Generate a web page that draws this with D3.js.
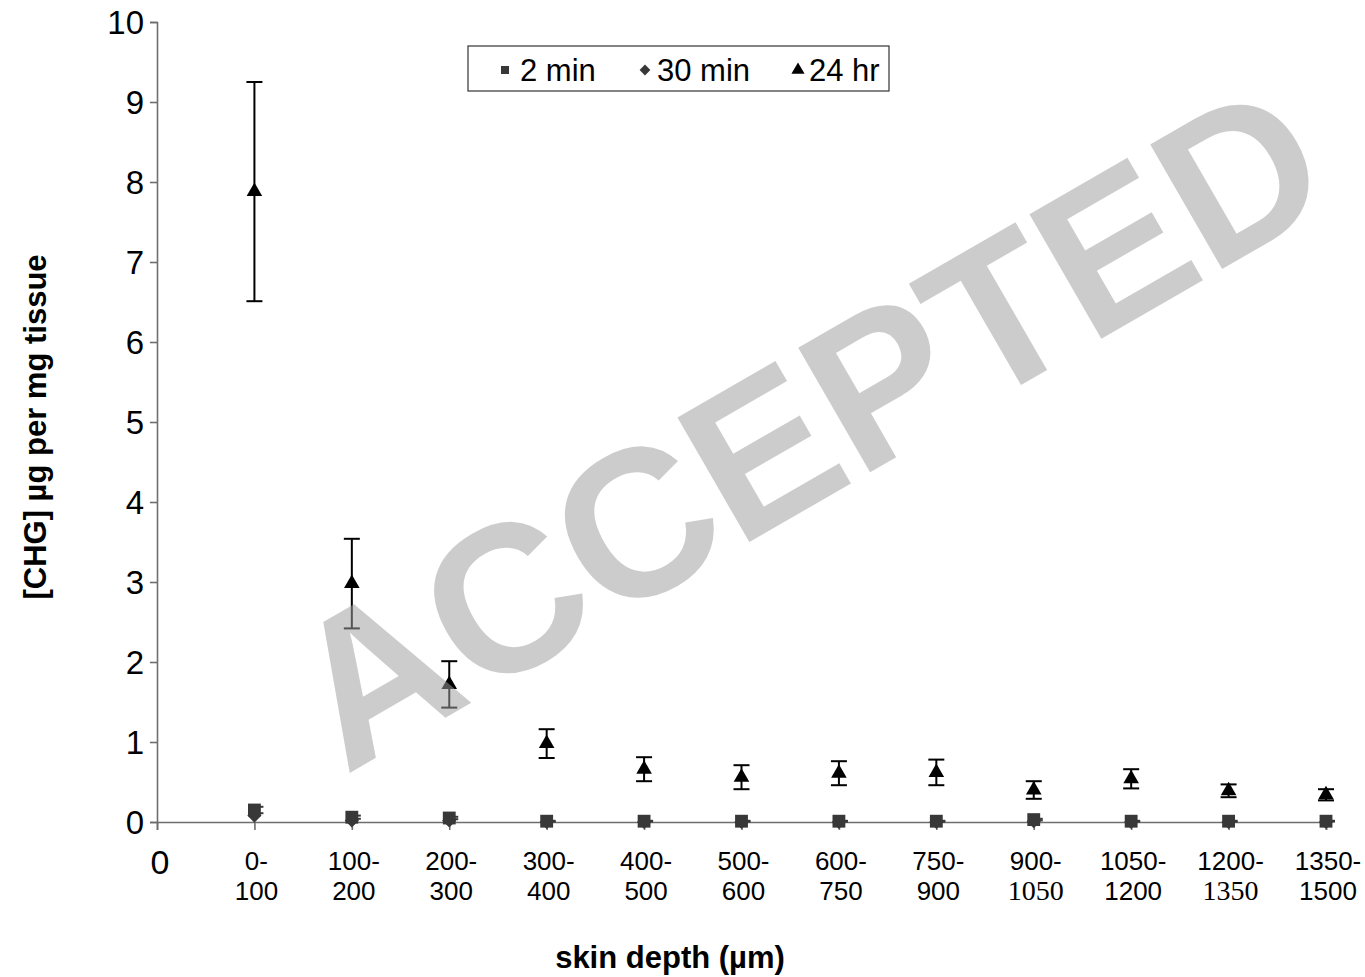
<!DOCTYPE html>
<html>
<head>
<meta charset="utf-8">
<script src="https://cdn.jsdelivr.net/npm/d3@7"></script>
<style>
  html, body { margin: 0; padding: 0; background: #fff; }
  svg { display: block; font-family: "Liberation Sans", Arial, sans-serif; }
</style>
</head>
<body>
<svg id="chart" width="1365" height="977"></svg>
<script>
// ---- data ----
const catTop    = ["0-", "100-", "200-", "300-", "400-", "500-", "600-", "750-", "900-", "1050-", "1200-", "1350-"];
const catBottom = ["100", "200", "300", "400", "500", "600", "750", "900", "1050", "1200", "1350", "1500"];
const serifBottom = ["1050", "1350"];   // these second-line labels are set in a serif face in the original
const seriesNames = ["2 min", "30 min", "24 hr"];
const min2   = [0.15, 0.06, 0.05, 0.01, 0.01, 0.01, 0.01, 0.01, 0.03, 0.01, 0.01, 0.01];
const min2Err = [0.04, 0.02, 0.015, 0.005, 0.005, 0.005, 0.005, 0.005, 0.01, 0.005, 0.005, 0.005];
const min30  = [0.08, 0.02, 0.02, 0.0, 0.0, 0.0, 0.0, 0.0, 0.01, 0.0, 0.0, 0.0];
const hr24   = [7.88, 2.98, 1.72, 0.98, 0.66, 0.56, 0.61, 0.62, 0.40, 0.54, 0.39, 0.34];
const hr24Err = [1.37, 0.56, 0.29, 0.18, 0.15, 0.15, 0.15, 0.16, 0.11, 0.12, 0.08, 0.07];
const yTicks = [0, 1, 2, 3, 4, 5, 6, 7, 8, 9, 10];
const yTitle = "[CHG] µg per mg tissue";
const xTitle = "skin depth (µm)";
const watermark = "ACCEPTED";

// ---- layout ----
const svg = d3.select("#chart");
const x = d3.scaleLinear().domain([0, 12]).range([157, 1326]);
const y = d3.scaleLinear().domain([0, 10]).range([822, 22]);
const axisColor = "#6e6e6e";
const markColor = "#383838";
const sans = "'Liberation Sans', Arial, sans-serif";
const serifFace = "'Liberation Serif', 'Times New Roman', serif";
const diamondPath = (size) => d3.symbol(d3.symbolSquare, size)();

// ---- watermark (semi-transparent, drawn over everything at the end) ----

// y axis
const yAxis = svg.append("g").attr("transform", `translate(${x(0)},0)`)
  .call(d3.axisLeft(y).tickValues(yTicks).tickSize(7).tickPadding(6).tickFormat(d3.format("d")));
yAxis.select(".domain").attr("stroke", axisColor).attr("stroke-width", 1.6);
yAxis.selectAll(".tick line").attr("stroke", axisColor).attr("stroke-width", 1.6);
yAxis.selectAll(".tick text").attr("fill", "#000").attr("dy", "0.36em")
  .style("font-size", "33px").style("font-family", sans);

// x axis line + ticks
const xIdx = d3.range(0, 13);
const xAxis = svg.append("g").attr("transform", `translate(0,${y(0)})`)
  .call(d3.axisBottom(x).tickValues(xIdx).tickSize(8).tickFormat(""));
xAxis.select(".domain").attr("stroke", axisColor).attr("stroke-width", 1.6);
xAxis.selectAll(".tick line").attr("stroke", axisColor).attr("stroke-width", 1.6);

// x labels
svg.append("text").attr("x", x(0) + 3).attr("y", 874).attr("text-anchor", "middle")
  .style("font-size", "34px").style("font-family", sans).text("0");
const xl = svg.append("g");
catTop.forEach((t, i) => {
  const cx = x(i + 1);
  xl.append("text").attr("x", cx + 2).attr("y", 870).attr("text-anchor", "middle")
    .style("font-size", "26px").style("font-family", sans).text(t);
  const b = catBottom[i];
  const serif = serifBottom.includes(b);
  xl.append("text").attr("x", cx + 2).attr("y", 900).attr("text-anchor", "middle")
    .style("font-size", serif ? "28px" : "26px")
    .style("font-family", serif ? serifFace : sans)
    .text(b);
});

// axis titles
svg.append("text").attr("x", 670).attr("y", 968).attr("text-anchor", "middle")
  .style("font-size", "31px").style("font-weight", "bold").text(xTitle);
svg.append("text").attr("transform", `translate(46,427) rotate(-90)`).attr("text-anchor", "middle")
  .style("font-size", "31px").style("font-weight", "bold").text(yTitle);

// ---- series ----
const marks = svg.append("g");

// 30 min diamonds
marks.selectAll(".d30").data(min30).join("path")
  .attr("transform", (d, i) => `translate(${x(i + 1)},${y(d)}) rotate(45)`)
  .attr("d", diamondPath(100))
  .attr("fill", markColor);

// 2 min error caps (visible at right side of squares)
const e2 = marks.append("g").attr("stroke", markColor).attr("stroke-width", 2);
min2.forEach((v, i) => {
  const cx = x(i + 1);
  e2.append("line").attr("x1", cx).attr("x2", cx).attr("y1", y(v + min2Err[i])).attr("y2", y(v - min2Err[i]));
  [v + min2Err[i], v - min2Err[i]].forEach(val => {
    e2.append("line").attr("x1", cx).attr("x2", cx + 9).attr("y1", y(val)).attr("y2", y(val));
  });
});

// 2 min squares
marks.selectAll(".s2").data(min2).join("path")
  .attr("transform", (d, i) => `translate(${x(i + 1)},${y(d)})`)
  .attr("d", d3.symbol(d3.symbolSquare, 165)())
  .attr("fill", markColor);

// 24 hr error bars
const e24 = marks.append("g").attr("stroke", "#000").attr("stroke-width", 2);
hr24.forEach((v, i) => {
  const cx = x(i + 1);
  const hi = v + hr24Err[i], lo = v - hr24Err[i];
  e24.append("line").attr("x1", cx).attr("x2", cx).attr("y1", y(hi)).attr("y2", y(lo));
  [hi, lo].forEach(val => {
    e24.append("line").attr("x1", cx - 8).attr("x2", cx + 8).attr("y1", y(val)).attr("y2", y(val));
  });
});
// 24 hr triangles
marks.selectAll(".t24").data(hr24).join("path")
  .attr("transform", (d, i) => `translate(${x(i + 1)},${y(d)})`)
  .attr("d", d3.symbol(d3.symbolTriangle, 105)())
  .attr("fill", "#000");

// ---- legend ----
const lg = svg.append("g");
lg.append("rect").attr("x", 468).attr("y", 46).attr("width", 421).attr("height", 45)
  .attr("fill", "#fff").attr("stroke", "#333").attr("stroke-width", 1.2);
const legendItems = [
  { name: seriesNames[0], d: d3.symbol(d3.symbolSquare, 64)(), rot: 0, fill: markColor, sx: 505, tx: 520 },
  { name: seriesNames[1], d: diamondPath(58), rot: 45, fill: markColor, sx: 645, tx: 657 },
  { name: seriesNames[2], d: d3.symbol(d3.symbolTriangle, 75)(), rot: 0, fill: "#000", sx: 798, tx: 809 }
];
legendItems.forEach(it => {
  lg.append("path").attr("transform", `translate(${it.sx},70) rotate(${it.rot})`)
    .attr("d", it.d).attr("fill", it.fill);
  lg.append("text").attr("x", it.tx).attr("y", 81)
    .style("font-size", "31px").style("font-family", sans).text(it.name);
});

// ---- watermark ----
svg.append("text")
  .attr("transform", "translate(843,488) rotate(-30)")
  .attr("text-anchor", "middle")
  .style("font-size", "209px").style("font-weight", "bold").style("font-family", sans)
  .attr("fill", "rgb(159,159,159)").attr("fill-opacity", 0.53)
  .text(watermark);
</script>
</body>
</html>
